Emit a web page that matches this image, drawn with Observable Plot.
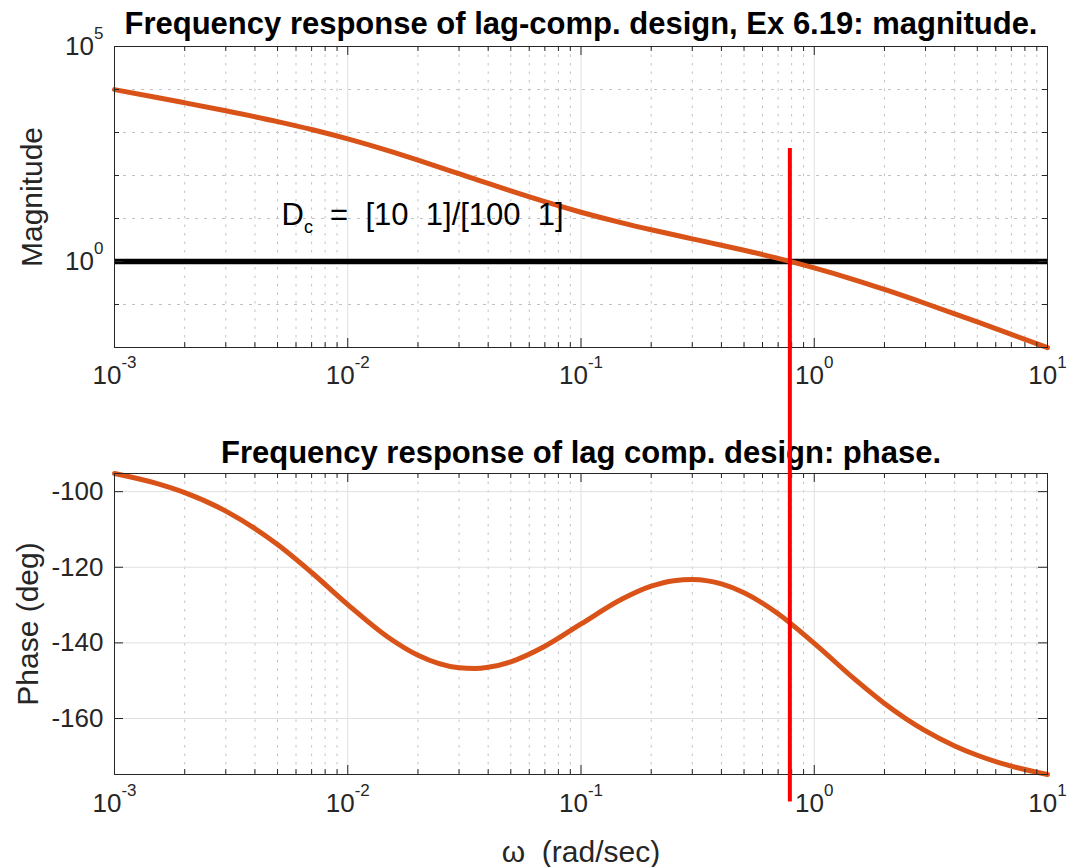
<!DOCTYPE html>
<html>
<head>
<meta charset="utf-8">
<script src="https://cdn.jsdelivr.net/npm/d3@7"></script>
<script src="https://cdn.jsdelivr.net/npm/@observablehq/plot@0.6"></script>
<style>
html, body { margin: 0; padding: 0; background: #fff; }
#chart { position: relative; width: 1071px; height: 867px; overflow: hidden; }
#chart svg { position: absolute; left: 0; display: block; }
svg text { white-space: pre; }
</style>
</head>
<body>
<div id="chart"></div>
<script>
// ---- data ----
const omega = [0.001, 0.0015, 0.002, 0.003, 0.005, 0.007, 0.01, 0.015, 0.02, 0.03, 0.035, 0.04, 0.05, 0.07, 0.1, 0.15, 0.2, 0.25, 0.3, 0.35, 0.4, 0.5, 0.7, 1, 1.5, 2, 3, 4, 5, 7, 10];
const magnitude = [9951, 6594, 4904, 3194, 1791, 1173, 710.6, 373.9, 228.0, 110.0, 83.11, 65.25, 43.80, 24.60, 14.00, 7.906, 5.475, 4.176, 3.364, 2.804, 2.392, 1.824, 1.182, 0.7106, 0.3706, 0.2239, 0.1055, 0.06065, 0.03923, 0.02021, 0.009951];
const phaseDeg = [-95.20, -97.76, -100.28, -105.15, -113.99, -121.39, -129.86, -138.64, -143.27, -146.58, -146.77, -146.45, -144.99, -140.88, -135.00, -128.41, -125.01, -123.55, -123.23, -123.60, -124.41, -126.73, -132.30, -140.14, -149.74, -156.01, -163.28, -167.25, -169.72, -172.61, -174.81];

const xDomain = [0.001, 10];
const magDomain = [0.01, 1e5];
const phaseDomain = [-174.81, -95.20];

const xDecades = [0.001, 0.01, 0.1, 1, 10];
const xDecadeLabels = ["10^-3", "10^-2", "10^-1", "10^0", "10^1"];
const xMinor = [0.001, 0.01, 0.1, 1].flatMap(d => [2, 3, 4, 5, 6, 7, 8, 9].map(k => d * k));
const magMajor = [1, 1e5];
const magMajorLabels = ["10^0", "10^5"];
const magMinor = [0.1, 10, 100, 1000, 10000];
const phaseTicks = [-100, -120, -140, -160];
const phaseTickLabels = ["-100", "-120", "-140", "-160"];

const unityGain = 1;
const crossover = 0.786;          // red marker line
const markerTopMag = 424;         // where the red line starts in the magnitude panel
const markerBottomPhase = -182.1; // where it ends below the phase panel
const dcLabel = "D_c  =  [10  1]/[100  1]";
const dcLabelOmega = 0.0052;
const dcLabelMag = 6.9;

const titleMag = "Frequency response of lag-comp. design, Ex 6.19: magnitude.";
const titlePhase = "Frequency response of lag comp. design: phase.";
const yLabelMag = "Magnitude";
const yLabelPhase = "Phase (deg)";
const xLabel = "ω  (rad/sec)";

// ---- styles ----
const FONT = "'Liberation Sans', Arial, Helvetica, sans-serif";
const AXIS = "#262626";
const GRID = "#e0e0e0";
const DOT = "#c2c2c2";
const CURVE = "#D95319";
const W = 1071;
const ML = 114, MR = 24;
const innerW = W - ML - MR;

const magData = omega.map((w, i) => ({w, v: magnitude[i]}));
const phaseData = omega.map((w, i) => ({w, v: phaseDeg[i]}));

function xTicksMarks(innerH) {
  return [
    Plot.tickX(xDecades, {x: d => d, insetTop: innerH - 9, stroke: AXIS}),
    Plot.tickX(xDecades, {x: d => d, insetBottom: innerH - 9, stroke: AXIS}),
    Plot.tickX(xMinor, {x: d => d, insetTop: innerH - 5, stroke: AXIS}),
    Plot.tickX(xMinor, {x: d => d, insetBottom: innerH - 5, stroke: AXIS})
  ];
}
function yTickMarks(vals, len) {
  return [
    Plot.tickY(vals, {y: d => d, insetRight: innerW - len, stroke: AXIS}),
    Plot.tickY(vals, {y: d => d, insetLeft: innerW - len, stroke: AXIS})
  ];
}

// ---- magnitude panel ----
const H1 = 400, MT1 = 46, MB1 = 53, IH1 = H1 - MT1 - MB1;
const magPlot = Plot.plot({
  width: W, height: H1,
  marginLeft: ML, marginRight: MR, marginTop: MT1, marginBottom: MB1,
  style: {fontFamily: FONT, fontSize: "26px", background: "transparent"},
  x: {type: "log", domain: xDomain, axis: null},
  y: {type: "log", domain: magDomain, axis: null},
  marks: [
    Plot.ruleX(xMinor, {x: d => d, stroke: DOT, strokeDasharray: "2.5,6"}),
    Plot.ruleY(magMinor, {y: d => d, stroke: DOT, strokeDasharray: "3,6"}),
    Plot.ruleX(xDecades, {x: d => d, stroke: GRID}),
    Plot.ruleY(magMajor, {y: d => d, stroke: GRID}),
    Plot.ruleY([unityGain], {y: d => d, stroke: "black", strokeWidth: 5.5}),
    Plot.line(magData, {x: "w", y: "v", stroke: CURVE, strokeWidth: 5, curve: "monotone-x"}),
    Plot.text([dcLabel], {x: dcLabelOmega, y: dcLabelMag, textAnchor: "start", lineAnchor: "bottom", fontSize: 31, fill: "black"}),
    Plot.frame({stroke: AXIS}),
    ...xTicksMarks(IH1),
    ...yTickMarks(magMajor, 9),
    ...yTickMarks(magMinor, 5),
    Plot.text(xDecades, {x: d => d, text: (d, i) => xDecadeLabels[i], frameAnchor: "bottom", lineAnchor: "bottom", dy: 36, fontSize: 26, fill: AXIS}),
    Plot.text(magMajor, {y: d => d, text: (d, i) => magMajorLabels[i], frameAnchor: "left", textAnchor: "end", dx: -11, fontSize: 26, fill: AXIS}),
    Plot.text([titleMag], {frameAnchor: "top", textAnchor: "middle", lineAnchor: "bottom", dy: -13, fontSize: 31, fontWeight: "bold", fill: "black"}),
    Plot.text([yLabelMag], {frameAnchor: "left", textAnchor: "middle", rotate: -90, lineAnchor: "bottom", dx: -73, fontSize: 30, fill: AXIS}),
    Plot.ruleX([crossover], {x: d => d, y1: markerTopMag, y2: 1e-4, stroke: "#ff0000", strokeWidth: 4})
  ]
});

// ---- phase panel ----
const H2 = 467, MT2 = 73, MB2 = 93, IH2 = H2 - MT2 - MB2;
const phasePlot = Plot.plot({
  width: W, height: H2,
  marginLeft: ML, marginRight: MR, marginTop: MT2, marginBottom: MB2,
  style: {fontFamily: FONT, fontSize: "26px", background: "transparent"},
  x: {type: "log", domain: xDomain, axis: null},
  y: {type: "linear", domain: phaseDomain, axis: null},
  marks: [
    Plot.ruleX(xMinor, {x: d => d, stroke: DOT, strokeDasharray: "2.5,6"}),
    Plot.ruleX(xDecades, {x: d => d, stroke: GRID}),
    Plot.ruleY(phaseTicks, {y: d => d, stroke: GRID}),
    Plot.line(phaseData, {x: "w", y: "v", stroke: CURVE, strokeWidth: 5, curve: "monotone-x"}),
    Plot.frame({stroke: AXIS}),
    ...xTicksMarks(IH2),
    ...yTickMarks(phaseTicks, 9),
    Plot.text(xDecades, {x: d => d, text: (d, i) => xDecadeLabels[i], frameAnchor: "bottom", lineAnchor: "bottom", dy: 37, fontSize: 26, fill: AXIS}),
    Plot.text(phaseTicks, {y: d => d, text: (d, i) => phaseTickLabels[i], frameAnchor: "left", textAnchor: "end", dx: -11, fontSize: 26, fill: AXIS}),
    Plot.text([titlePhase], {frameAnchor: "top", textAnchor: "middle", lineAnchor: "bottom", dy: -11, fontSize: 31, fontWeight: "bold", fill: "black"}),
    Plot.text([yLabelPhase], {frameAnchor: "left", textAnchor: "middle", rotate: -90, lineAnchor: "bottom", dx: -77, fontSize: 30, fill: AXIS}),
    Plot.text([xLabel], {frameAnchor: "bottom", textAnchor: "middle", lineAnchor: "bottom", dy: 87, fontSize: 30, fill: AXIS}),
    Plot.ruleX([crossover], {x: d => d, y1: -60, y2: markerBottomPhase, stroke: "#ff0000", strokeWidth: 4})
  ]
});

// ---- superscripts / subscripts as real text ----
const NS = "http://www.w3.org/2000/svg";
function richText(svg) {
  svg.querySelectorAll("text").forEach(t => {
    if (t.children.length) return;
    const s = t.textContent;
    let m = s.match(/^10\^(.+)$/);
    if (m) {
      t.textContent = "10";
      const sup = document.createElementNS(NS, "tspan");
      sup.setAttribute("dy", "-16");
      sup.setAttribute("font-size", "17");
      sup.textContent = m[1];
      t.appendChild(sup);
      return;
    }
    m = s.match(/^(\w)_(\w)(.*)$/);
    if (m) {
      t.textContent = m[1];
      const sub = document.createElementNS(NS, "tspan");
      sub.setAttribute("dy", "8");
      sub.setAttribute("font-size", "18");
      sub.textContent = m[2];
      const rest = document.createElementNS(NS, "tspan");
      rest.setAttribute("dy", "-8");
      rest.textContent = m[3];
      t.appendChild(sub);
      t.appendChild(rest);
    }
  });
}
richText(magPlot);
richText(phasePlot);

magPlot.style.top = "0px";
phasePlot.style.top = H1 + "px";
const chart = document.getElementById("chart");
chart.appendChild(magPlot);
chart.appendChild(phasePlot);
</script>
</body>
</html>
